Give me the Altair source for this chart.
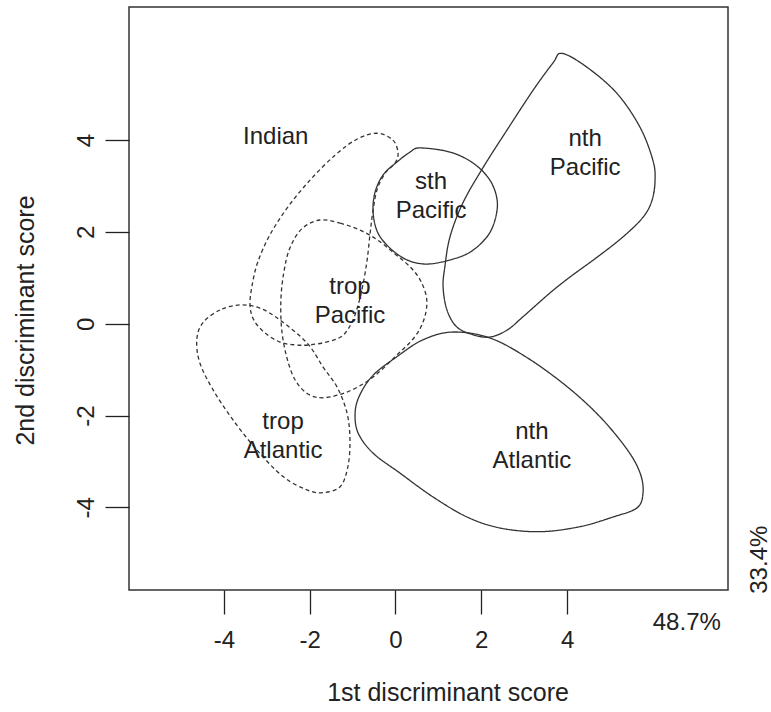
import altair as alt
import pandas as pd

# ---- contour outlines (data units) ----
nth_pacific_x = [3.88, 4.46, 5.16, 5.70, 6.00, 6.05, 5.98, 5.77, 5.30, 4.70, 4.07, 3.60, 2.97, 2.60,
                 2.20, 1.81, 1.43, 1.20, 1.11, 1.15, 1.27, 1.57, 2.04, 2.60, 3.21, 3.67]
nth_pacific_y = [5.89, 5.59, 5.02, 4.28, 3.56, 3.13, 2.69, 2.32, 1.89, 1.45, 1.02, 0.67, 0.15, -0.14,
                 -0.29, -0.24, -0.07, 0.30, 0.80, 1.23, 1.89, 2.63, 3.40, 4.22, 5.09, 5.68]

sth_pacific_x = [0.57, 1.27, 1.81, 2.20, 2.37, 2.32, 2.13, 1.74, 1.27, 0.73, 0.27, -0.13, -0.41,
                 -0.52, -0.48, -0.29, 0.03, 0.34]
sth_pacific_y = [3.83, 3.74, 3.50, 3.13, 2.69, 2.26, 1.89, 1.56, 1.39, 1.30, 1.39, 1.65, 1.98,
                 2.41, 2.85, 3.24, 3.52, 3.74]

nth_atlantic_x = [1.34, 2.20, 3.07, 4.00, 4.77, 5.40, 5.70, 5.77, 5.63, 5.07, 4.30, 3.37, 2.44, 1.67,
                  0.87, 0.10, -0.52, -0.87, -0.94, -0.83, -0.52, 0.03, 0.64]
nth_atlantic_y = [-0.18, -0.31, -0.74, -1.37, -2.03, -2.74, -3.25, -3.68, -4.01, -4.21, -4.42, -4.53,
                  -4.45, -4.21, -3.77, -3.25, -2.82, -2.38, -1.94, -1.55, -1.12, -0.72, -0.35]

indian_x = [-0.43, -0.06, 0.06, -0.01, -0.24, -0.43, -0.52, -0.59, -0.66, -0.76, -0.87, -1.01, -1.22,
            -1.53, -1.99, -2.34, -2.69, -3.04, -3.30, -3.39, -3.34, -3.21, -2.93, -2.51, -1.99, -1.41, -0.90]
indian_y = [4.15, 4.00, 3.72, 3.50, 3.28, 2.92, 2.48, 1.98, 1.39, 0.84, 0.41, 0.04, -0.25,
            -0.38, -0.46, -0.46, -0.40, -0.20, 0.08, 0.41, 0.84, 1.34, 1.93, 2.54, 3.13, 3.67, 4.02]

trop_pacific_x = [-1.76, -1.29, -0.83, -0.41, -0.01, 0.34, 0.59, 0.73, 0.66, 0.43, -0.01, -0.52, -1.06,
                  -1.64, -2.04, -2.34, -2.53, -2.65, -2.67, -2.60, -2.46, -2.18]
trop_pacific_y = [2.26, 2.19, 2.04, 1.82, 1.52, 1.24, 0.93, 0.52, 0.08, -0.31, -0.72, -1.16, -1.46,
                  -1.61, -1.53, -1.22, -0.74, -0.14, 0.52, 1.13, 1.65, 2.07]

trop_atlantic_x = [-3.62, -4.09, -4.49, -4.63, -4.56, -4.25, -3.79, -3.23, -2.62, -2.06, -1.69, -1.29,
                   -1.11, -1.06, -1.13, -1.36, -1.69, -2.06, -2.69, -3.16]
trop_atlantic_y = [0.41, 0.30, 0.02, -0.35, -0.85, -1.44, -2.09, -2.75, -3.33, -3.62, -3.68, -3.55,
                   -3.12, -2.53, -1.94, -1.38, -0.94, -0.42, 0.08, 0.34]

# ---- region labels (position of the first text line) ----
label_text = ["Indian", "sth\nPacific", "nth\nPacific", "trop\nPacific", "trop\nAtlantic", "nth\nAtlantic"]
label_x = [-2.79, 0.83, 4.42, -1.06, -2.62, 3.18]
label_y = [4.07, 3.09, 4.02, 0.80, -2.14, -2.36]

# ---- axis tick values and percentage annotations ----
tick_values = [-4, -2, 0, 2, 4]
pct_x_text = ["48.7%"]
pct_x_pos = [6.79]
pct_x_val = [-6.68]
pct_y_text = ["33.4%"]
pct_y_pos = [8.65]
pct_y_val = [-5.14]

contours = [
    ("nth Pacific", "solid", nth_pacific_x, nth_pacific_y),
    ("sth Pacific", "solid", sth_pacific_x, sth_pacific_y),
    ("nth Atlantic", "solid", nth_atlantic_x, nth_atlantic_y),
    ("Indian", "dashed", indian_x, indian_y),
    ("trop Pacific", "dashed", trop_pacific_x, trop_pacific_y),
    ("trop Atlantic", "dashed", trop_atlantic_x, trop_atlantic_y),
]
rows = []
for name, style, xs, ys in contours:
    for i, (a, b) in enumerate(zip(xs, ys)):
        rows.append({"group": name, "style": style, "idx": i, "x": a, "y": b})
df = pd.DataFrame(rows)

labels_df = pd.DataFrame({"text": label_text, "x": label_x, "y": label_y})
pctx_df = pd.DataFrame({"text": pct_x_text, "x": pct_x_pos, "y": pct_x_val})
pcty_df = pd.DataFrame({"text": pct_y_text, "x": pct_y_pos, "y": pct_y_val})

FONT = "Liberation Sans"
TXT = "#222222"

xscale = alt.Scale(domain=[-6.21, 7.75], nice=False, zero=False)
yscale = alt.Scale(domain=[-5.8, 6.9], nice=False, zero=False)

xaxis = alt.Axis(values=tick_values, title="1st discriminant score", grid=False, domain=False,
                 tickSize=24, tickColor=TXT, tickWidth=1.3, labelFontSize=24, labelFont=FONT,
                 labelColor=TXT, labelBaseline="alphabetic", labelPadding=33.6,
                 labelExpr="'' + datum.value", labelFlush=False,
                 titleFont=FONT, titleFontSize=25, titleFontWeight="normal", titleColor=TXT,
                 titleX=318.5, titleY=110, titleAlign="center", titleBaseline="alphabetic")
yaxis = alt.Axis(values=tick_values, title="2nd discriminant score", grid=False, domain=False,
                 tickSize=24, tickColor=TXT, tickWidth=1.3, labelFontSize=24, labelFont=FONT,
                 labelColor=TXT, labelAngle=270, labelAlign="center", labelBaseline="alphabetic",
                 labelPadding=11.4, labelExpr="'' + datum.value", labelFlush=False,
                 titleFont=FONT, titleFontSize=25, titleFontWeight="normal", titleColor=TXT,
                 titleAngle=270, titleX=-96, titleY=313, titleAlign="center", titleBaseline="alphabetic")

lines = alt.Chart(df).mark_line(interpolate="cardinal-closed", color="#333333", strokeWidth=1.3).encode(
    x=alt.X("x:Q", scale=xscale, axis=xaxis),
    y=alt.Y("y:Q", scale=yscale, axis=yaxis),
    detail="group:N",
    order="idx:Q",
    strokeDash=alt.StrokeDash("style:N", scale=alt.Scale(domain=["solid", "dashed"], range=[[1, 0], [4, 3]]),
                              legend=None),
)

labels = alt.Chart(labels_df).mark_text(font=FONT, fontSize=24, color=TXT, lineBreak="\n", lineHeight=29,
                                        align="center", baseline="middle").encode(
    x=alt.X("x:Q", scale=xscale), y=alt.Y("y:Q", scale=yscale), text="text:N")

pctx = alt.Chart(pctx_df).mark_text(font=FONT, fontSize=24, color=TXT, align="center",
                                    baseline="alphabetic").encode(
    x=alt.X("x:Q", scale=xscale), y=alt.Y("y:Q", scale=yscale), text="text:N")

pcty = alt.Chart(pcty_df).mark_text(font=FONT, fontSize=24, color=TXT, align="center",
                                    baseline="alphabetic", angle=270).encode(
    x=alt.X("x:Q", scale=xscale), y=alt.Y("y:Q", scale=yscale), text="text:N")

chart = alt.layer(lines, labels, pctx, pcty).properties(
    width=599, height=583,
    background="white",
    autosize=alt.AutoSizeParams(type="none"),
    padding={"left": 129, "top": 7, "right": 43, "bottom": 122},
).configure_view(stroke="#333333", strokeWidth=1.5)

chart.save("out.html", embed_options={"renderer": "svg", "actions": False})
